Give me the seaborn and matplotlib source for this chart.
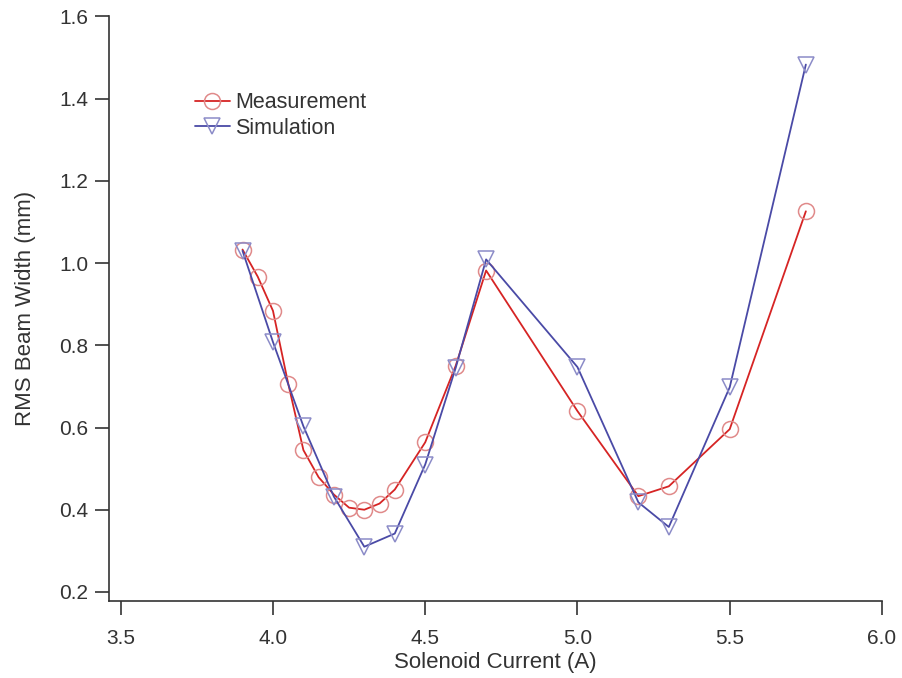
import numpy as np
import pandas as pd
import seaborn as sns
import matplotlib
matplotlib.use("Agg")
import matplotlib.pyplot as plt

# Data
meas_current = [3.9, 3.95, 4.0, 4.05, 4.1, 4.15, 4.2, 4.25, 4.3, 4.35, 4.4, 4.5, 4.6, 4.7, 5.0, 5.2, 5.3, 5.5, 5.75]
meas_width = [1.033, 0.967, 0.884, 0.707, 0.545, 0.479, 0.437, 0.405, 0.400, 0.415, 0.449, 0.564, 0.750, 0.982, 0.640, 0.433, 0.457, 0.596, 1.126]

sim_current = [3.9, 4.0, 4.1, 4.2, 4.3, 4.4, 4.5, 4.6, 4.7, 5.0, 5.2, 5.3, 5.5, 5.75]
sim_width = [1.030, 0.808, 0.603, 0.432, 0.310, 0.342, 0.510, 0.745, 1.009, 0.747, 0.418, 0.358, 0.698, 1.483]

x_ticks = [3.5, 4.0, 4.5, 5.0, 5.5, 6.0]
y_ticks = [0.2, 0.4, 0.6, 0.8, 1.0, 1.2, 1.4, 1.6]

sns.set_style("ticks")
plt.rcParams['font.family'] = ['Liberation Sans', 'DejaVu Sans']

fig = plt.figure(figsize=(9.02, 6.78), dpi=100)
ax = fig.add_axes([0.1212, 0.1136, 0.9778 - 0.1212, 0.9757 - 0.1136])

meas = pd.DataFrame({"current": meas_current, "width": meas_width})
sim = pd.DataFrame({"current": sim_current, "width": sim_width})

sns.lineplot(data=meas, x="current", y="width", ax=ax, color="#d62424", lw=1.3,
             marker="o", ms=11.5, mfc="none", mec="#e08a8a", mew=1.1, label="Measurement")
sns.lineplot(data=sim, x="current", y="width", ax=ax, color="#4a4aa6", lw=1.3,
             marker="v", ms=11, mfc="none", mec="#8c8cc8", mew=1.1, label="Simulation")

ax.set_xlim(3.4626, 6.0)
ax.set_ylim(0.178, 1.6)
ax.set_xticks(x_ticks)
ax.set_xticklabels([f"{v:.1f}" for v in x_ticks])
ax.set_yticks(y_ticks)
ax.set_yticklabels([f"{v:.1f}" for v in y_ticks])

for s in ["top", "right"]:
    ax.spines[s].set_visible(False)
for s in ["left", "bottom"]:
    ax.spines[s].set_color("#333333")
    ax.spines[s].set_linewidth(1.2)
ax.tick_params(axis="both", direction="out", length=10, width=1.2, color="#333333",
               labelsize=15, labelcolor="#333333")
ax.tick_params(axis="x", pad=10)
ax.tick_params(axis="y", pad=5)

ax.set_xlabel("Solenoid Current (A)", fontsize=16, color="#333333", labelpad=3)
ax.set_ylabel("RMS Beam Width (mm)", fontsize=16, color="#333333", labelpad=17)

leg = ax.legend(loc="upper left", bbox_to_anchor=(0.100, 0.885), frameon=False,
                fontsize=15.5, handlelength=1.6, handletextpad=0.25, labelspacing=0.2,
                borderaxespad=0)
for t in leg.get_texts():
    t.set_color("#333333")

fig.savefig("out.png", dpi=100)
